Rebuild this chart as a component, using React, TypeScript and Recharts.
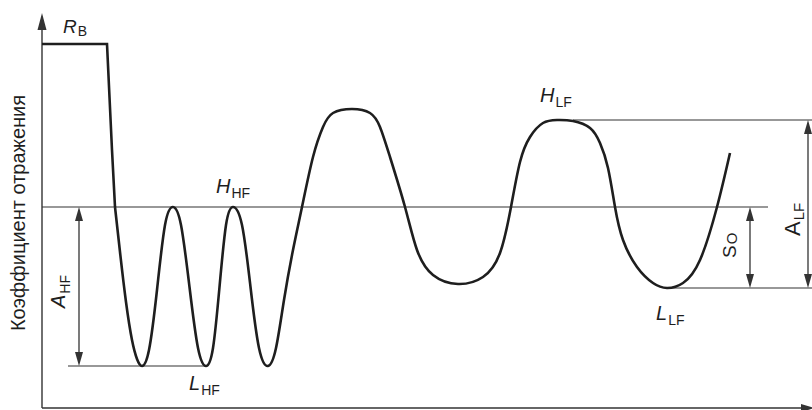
import React from 'react';
import { ComposedChart, Line, XAxis, YAxis, ReferenceLine, ReferenceDot } from 'recharts';

// ---- data (x: horizontal position units, y: reflection coefficient units) ----
const stepX = [42, 107, 112, 115];
const stepY = [366, 366, 260, 203];

const curveX = [
  115, 120, 126, 132, 137, 142,
  149, 157, 165, 173,
  181, 189.5, 198, 206,
  213, 219.5, 226, 233,
  242, 250.5, 259, 268,
  276, 284, 293, 302, 313, 323, 333, 352, 370, 380, 390, 405,
  417, 433, 458, 483, 500, 511,
  520, 530, 543, 557, 573, 590, 600, 608, 615,
  623, 637, 653, 667, 683, 700, 717, 730,
];
const curveY = [
  203, 158, 108, 70, 51, 44,
  60, 120, 185, 203,
  185, 123, 62, 44,
  62, 123, 185, 203,
  185, 123, 62, 44,
  62, 110, 160, 203, 253, 283, 297, 301, 297, 283, 253, 203,
  160, 135, 126, 133, 157, 203,
  248, 273, 287, 290, 289, 282, 267, 242, 203,
  170, 143, 127, 122, 127, 150, 203, 257,
];

const baseLevel = 203; // S0 reference level
const hfHigh = 203;
const hfLow = 44;
const lfHigh = 290;
const lfLow = 122;

const yAxisTitle = 'Коэффициент отражения';

const stepData = stepX.map((x, i) => ({ x, y: stepY[i] }));
const curveData = curveX.map((x, i) => ({ x, y: curveY[i] }));

const FONT = '"Liberation Sans", Arial, Helvetica, sans-serif';
const INK = '#1e1e1e';
const THIN = '#333333';

function arrowShape(startHead: boolean, endHead: boolean, len = 14, half = 4, width = 1.3) {
  return (props: any) => {
    const x1 = Number(props.x1), y1 = Number(props.y1), x2 = Number(props.x2), y2 = Number(props.y2);
    const dx = x2 - x1, dy = y2 - y1;
    const L = Math.hypot(dx, dy) || 1;
    const ux = dx / L, uy = dy / L;
    const px = -uy, py = ux;
    const head = (tx: number, ty: number, dir: number) => {
      const bx = tx - dir * ux * len, by = ty - dir * uy * len;
      return `${tx},${ty} ${bx + px * half},${by + py * half} ${bx - px * half},${by - py * half}`;
    };
    const sx = startHead ? x1 + ux * len * 0.8 : x1;
    const sy = startHead ? y1 + uy * len * 0.8 : y1;
    const ex = endHead ? x2 - ux * len * 0.8 : x2;
    const ey = endHead ? y2 - uy * len * 0.8 : y2;
    return (
      <g>
        <line x1={sx} y1={sy} x2={ex} y2={ey} stroke={THIN} strokeWidth={width} />
        {startHead && <polygon points={head(x1, y1, -1)} fill={THIN} />}
        {endHead && <polygon points={head(x2, y2, 1)} fill={THIN} />}
      </g>
    );
  };
}

type LabelOpts = { italic?: boolean; rotate?: boolean; size?: number; subSize?: number; dy?: number; anchor?: string };

function labelShape(main: string, sub: string, o: LabelOpts = {}) {
  const size = o.size ?? 20;
  const subSize = o.subSize ?? 14;
  const dy = o.dy ?? 5;
  return (props: any) => {
    const cx = Number(props.cx), cy = Number(props.cy);
    return (
      <text
        x={cx}
        y={cy}
        transform={o.rotate ? `rotate(-90 ${cx} ${cy})` : undefined}
        fontFamily={FONT}
        fontSize={size}
        fill={INK}
        textAnchor={o.anchor ?? 'start'}
      >
        <tspan fontStyle={o.italic ? 'italic' : 'normal'}>{main}</tspan>
        {sub ? (
          <tspan fontSize={subSize} dy={dy} dx={1}>
            {sub}
          </tspan>
        ) : null}
      </text>
    );
  };
}

export default function App() {
  return (
    <div style={{ position: 'absolute', left: 0, top: 0, width: 812, height: 410, background: '#fff' }}>
      <ComposedChart width={812} height={410} margin={{ top: 0, right: 0, bottom: 0, left: 0 }}>
        <XAxis type="number" dataKey="x" domain={[0, 812]} hide allowDataOverflow />
        <YAxis type="number" dataKey="y" domain={[0, 410]} hide allowDataOverflow />

        {/* axes */}
        <ReferenceLine
          ifOverflow="visible"
          segment={[{ x: 42, y: 2 }, { x: 42, y: 397 }]}
          shape={arrowShape(false, true, 17, 4.5, 1.4)}
        />
        <ReferenceLine
          ifOverflow="visible"
          segment={[{ x: 42, y: 2 }, { x: 815, y: 2 }]}
          shape={arrowShape(false, true, 14, 4, 1.6)}
        />

        {/* reference levels */}
        <ReferenceLine
          ifOverflow="visible"
          segment={[{ x: 42, y: baseLevel }, { x: 768, y: baseLevel }]}
          shape={arrowShape(false, false, 0, 0, 1.2)}
        />
        <ReferenceLine
          ifOverflow="visible"
          segment={[{ x: 68, y: hfLow }, { x: 206, y: hfLow }]}
          shape={arrowShape(false, false, 0, 0, 1.2)}
        />
        <ReferenceLine
          ifOverflow="visible"
          segment={[{ x: 573, y: lfHigh }, { x: 812, y: lfHigh }]}
          shape={arrowShape(false, false, 0, 0, 1.2)}
        />
        <ReferenceLine
          ifOverflow="visible"
          segment={[{ x: 667, y: lfLow }, { x: 812, y: lfLow }]}
          shape={arrowShape(false, false, 0, 0, 1.2)}
        />

        {/* dimension arrows */}
        <ReferenceLine
          ifOverflow="visible"
          segment={[{ x: 79, y: hfHigh }, { x: 79, y: hfLow }]}
          shape={arrowShape(true, true, 14, 4, 1.3)}
        />
        <ReferenceLine
          ifOverflow="visible"
          segment={[{ x: 750, y: baseLevel }, { x: 750, y: lfLow }]}
          shape={arrowShape(true, true, 14, 4, 1.3)}
        />
        <ReferenceLine
          ifOverflow="visible"
          segment={[{ x: 808, y: lfHigh }, { x: 808, y: lfLow }]}
          shape={arrowShape(true, true, 14, 4, 1.3)}
        />

        {/* curve */}
        <Line
          data={stepData}
          dataKey="y"
          type="linear"
          stroke={INK}
          strokeWidth={2.6}
          dot={false}
          activeDot={false}
          isAnimationActive={false}
        />
        <Line
          data={curveData}
          dataKey="y"
          type="natural"
          stroke={INK}
          strokeWidth={2.6}
          dot={false}
          activeDot={false}
          isAnimationActive={false}
        />

        {/* labels */}
        <ReferenceDot ifOverflow="visible" x={25} y={197} r={0} shape={labelShape(yAxisTitle, '', { rotate: true, anchor: 'middle', size: 20 })} />
        <ReferenceDot ifOverflow="visible" x={63} y={377} r={0} shape={labelShape('R', 'B', { italic: true, size: 19, subSize: 14, dy: 3 })} />
        <ReferenceDot ifOverflow="visible" x={216} y={217} r={0} shape={labelShape('H', 'HF', { italic: true })} />
        <ReferenceDot ifOverflow="visible" x={189} y={20} r={0} shape={labelShape('L', 'HF', { italic: true })} />
        <ReferenceDot ifOverflow="visible" x={540} y={308} r={0} shape={labelShape('H', 'LF', { italic: true })} />
        <ReferenceDot ifOverflow="visible" x={656} y={90} r={0} shape={labelShape('L', 'LF', { italic: true })} />
        <ReferenceDot ifOverflow="visible" x={65} y={102} r={0} shape={labelShape('A', 'HF', { italic: true, rotate: true })} />
        <ReferenceDot ifOverflow="visible" x={736} y={152} r={0} shape={labelShape('S', 'O', { rotate: true, size: 19, subSize: 15, dy: 1 })} />
        <ReferenceDot ifOverflow="visible" x={800} y={174} r={0} shape={labelShape('A', 'LF', { rotate: true, size: 22, subSize: 15, dy: 4 })} />
      </ComposedChart>
    </div>
  );
}
